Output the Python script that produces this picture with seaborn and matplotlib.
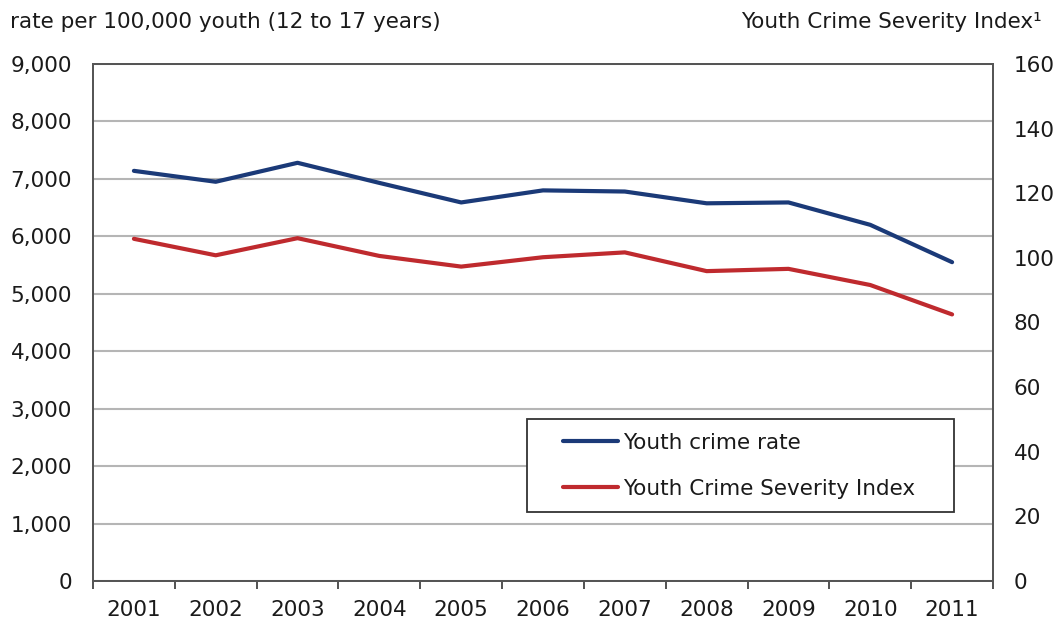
import matplotlib
matplotlib.use("Agg")
import matplotlib.pyplot as plt
import seaborn as sns
import pandas as pd
from matplotlib.ticker import FuncFormatter, MultipleLocator
from matplotlib.lines import Line2D
from matplotlib.legend_handler import HandlerLine2D

years = ["2001", "2002", "2003", "2004", "2005", "2006", "2007", "2008", "2009", "2010", "2011"]
crime_rate = [7140, 6950, 7280, 6930, 6590, 6800, 6780, 6575, 6590, 6200, 5550]
severity_index = [105.9, 100.8, 106.1, 100.6, 97.3, 100.2, 101.7, 95.9, 96.6, 91.6, 82.5]

left_title = "rate per 100,000 youth (12 to 17 years)"
right_title = "Youth Crime Severity Index¹"
label_rate = "Youth crime rate"
label_csi = "Youth Crime Severity Index"

df = pd.DataFrame({"pos": range(len(years)), "year": years,
                   "rate": crime_rate, "csi": severity_index})

sns.set_style("white")
plt.rcParams["font.family"] = ["DejaVu Sans"]

BLUE = "#1b3a78"
RED = "#bf2a2e"
TXT = "#1a1a1a"
FS = 15.5

fig = plt.figure(figsize=(10.57, 6.22), dpi=100)
ax = fig.add_axes([93/1057, 1 - 581/622, 900/1057, 517/622])
ax2 = ax.twinx()

sns.lineplot(data=df, x="pos", y="rate", ax=ax, color=BLUE, linewidth=3, label=label_rate, legend=False)
sns.lineplot(data=df, x="pos", y="csi", ax=ax2, color=RED, linewidth=3, label=label_csi, legend=False)

ax.set_xlim(-0.5, len(years) - 0.5)
ax.set_ylim(0, 9000)
ax2.set_ylim(0, 160)
ax.yaxis.set_major_locator(MultipleLocator(1000))
ax2.yaxis.set_major_locator(MultipleLocator(20))
ax.yaxis.set_major_formatter(FuncFormatter(lambda v, p: f"{int(v):,}"))

ax.set_xticks([i - 0.5 for i in range(len(years) + 1)], minor=False)
ax.set_xticklabels([])
ax.set_xticks(range(len(years)), minor=True)
ax.set_xticklabels(years, minor=True)
ax.tick_params(axis="x", which="major", direction="out", length=6, width=1.3, color="#444444", bottom=True)
ax.tick_params(axis="x", which="minor", length=0, pad=14, labelsize=FS, labelcolor=TXT)
ax.tick_params(axis="y", length=0, pad=15, labelsize=FS, labelcolor=TXT)
ax2.tick_params(axis="y", length=0, pad=15, labelsize=FS, labelcolor=TXT)

ax.grid(axis="y", color="#b5b5b5", linewidth=1.5)
ax.set_axisbelow(True)
for a in (ax, ax2):
    for s in a.spines.values():
        s.set_visible(True)
        s.set_color("#555555")
        s.set_linewidth(1.3)
ax.set_xlabel("")
ax.set_ylabel("")
ax2.set_ylabel("")

h1, l1 = ax.get_legend_handles_labels()
h2, l2 = ax2.get_legend_handles_labels()
leg = ax2.legend(h1 + h2, l1 + l2, loc="lower left",
                 bbox_to_anchor=(434/900, 69/517, 427/900, 93/517), mode="expand",
                 frameon=True, fancybox=False, edgecolor="#333333", framealpha=1,
                 fontsize=FS, handlelength=3.6, handletextpad=0.23,
                 borderpad=0.62, labelspacing=1.2, borderaxespad=0,
                 handler_map={Line2D: HandlerLine2D(xpad=1.05)})
leg.get_frame().set_linewidth(1.3)
leg.set_zorder(10)
for t in leg.get_texts():
    t.set_color(TXT)

fig.text(10/1057, 1 - 22/622, left_title, ha="left", va="center", fontsize=FS, color=TXT)
fig.text(1042/1057, 1 - 22/622, right_title, ha="right", va="center", fontsize=FS, color=TXT)

fig.savefig("out.png", dpi=100)
